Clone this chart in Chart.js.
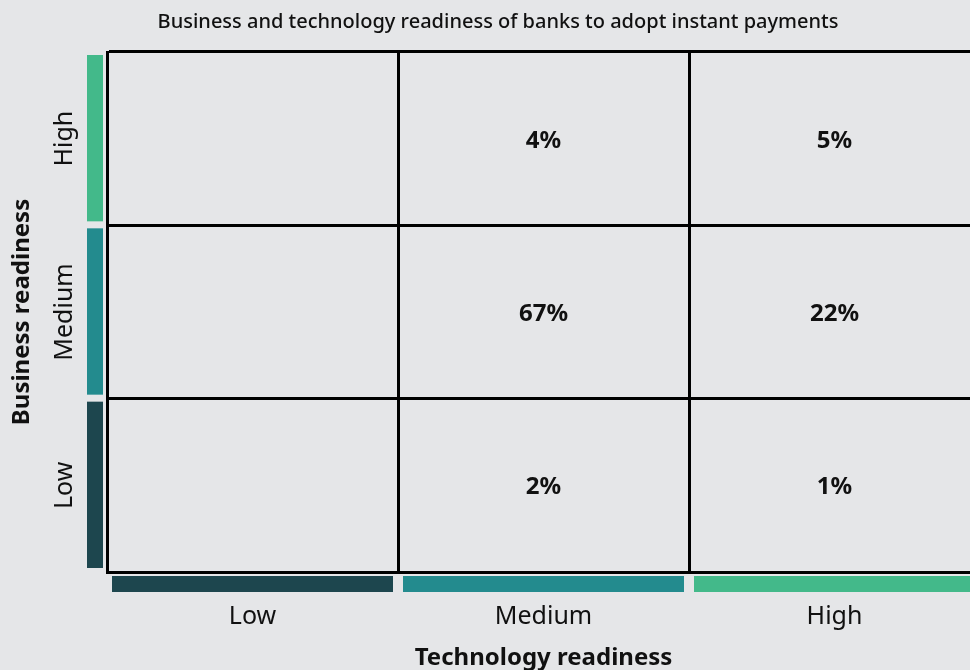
<!DOCTYPE html>
<html>
<head>
<meta charset="utf-8">
<script src="https://cdn.jsdelivr.net/npm/chart.js@4.4.1/dist/chart.umd.min.js"></script>
<style>
    html, body { margin: 0; padding: 0; background: #e5e6e8; overflow: hidden; }
    #wrap { width: 990px; height: 670px; }
</style>
</head>
<body>
<div id="wrap"><canvas id="matrix" width="990" height="670"></canvas></div>
<script>
// ── Data ─────────────────────────────────────────────────────────────────────

const chartTitle     = "Business and technology readiness of banks to adopt instant payments";
const techLevels     = ["Low", "Medium", "High"];   // x axis, left → right
const businessLevels = ["High", "Medium", "Low"];   // y axis, top → bottom

// share of banks (%) per technology level, one array per business level
const highBusiness   = [null, 4, 5];
const mediumBusiness = [null, 67, 22];
const lowBusiness    = [null, 2, 1];

// ── Styling ──────────────────────────────────────────────────────────────────

const FONT = "'Noto Sans', sans-serif";
const levelColors = { Low: "#1d464e", Medium: "#238b8e", High: "#43b98a" };

// one point per filled cell, placed on the category axes
const rows  = [highBusiness, mediumBusiness, lowBusiness];
const cells = [];
rows.forEach((row, i) => {
    row.forEach((v, j) => {
        if (v !== null) cells.push({ x: techLevels[j], y: businessLevels[i], v });
    });
});

// ── Plugin: title, coloured level bars, rotated row labels, cell values ─────

const matrixDecor = {
    id: "matrixDecor",
    afterDraw(chart) {
        const { ctx, chartArea, scales: { x, y } } = chart;
        ctx.save();

        // chart title (centred on the visible page)
        ctx.fillStyle = "#111";
        ctx.font = `500 20px ${FONT}`;
        ctx.textAlign = "center";
        ctx.textBaseline = "middle";
        ctx.fillText(chartTitle, 498, 22);

        // bars under the x axis
        techLevels.forEach((lvl, i) => {
            const l = x.getPixelForValue(i - 0.5);
            const r = x.getPixelForValue(i + 0.5);
            ctx.fillStyle = levelColors[lvl];
            ctx.fillRect(l + 5, chartArea.bottom + 4, r - l - 10, 16);
        });

        // bars + rotated labels left of the y axis
        businessLevels.forEach((lvl, i) => {
            const t = y.getPixelForValue(i - 0.5);
            const b = y.getPixelForValue(i + 0.5);
            const top = Math.min(t, b), bot = Math.max(t, b);
            ctx.fillStyle = levelColors[lvl];
            ctx.fillRect(chartArea.left - 20, top + 3, 16, bot - top - 7);

            ctx.save();
            ctx.translate(65, (top + bot) / 2);
            ctx.rotate(-Math.PI / 2);
            ctx.fillStyle = "#111";
            ctx.font = `25px ${FONT}`;
            ctx.fillText(lvl, 0, 0);
            ctx.restore();
        });

        // percentages in the cells
        const meta = chart.getDatasetMeta(0);
        ctx.fillStyle = "#111";
        ctx.font = `bold 24px ${FONT}`;
        meta.data.forEach((pt, k) => {
            ctx.fillText(cells[k].v + "%", pt.x, pt.y + 2);
        });

        ctx.restore();
    },
};

// ── Chart ────────────────────────────────────────────────────────────────────

new Chart(document.getElementById("matrix"), {
    type: "scatter",
    data: {
        datasets: [{
            data: cells,
            pointRadius: 0,
            pointHoverRadius: 0,
        }],
    },
    options: {
        responsive: false,
        animation: false,
        layout: { padding: { top: 52, right: 10, left: 0, bottom: 0 } },
        plugins: {
            legend:  { display: false },
            tooltip: { enabled: false },
        },
        scales: {
            x: {
                type: "category",
                labels: techLevels,
                offset: true,
                grid:   { offset: true, color: "#000", lineWidth: 3, drawTicks: false },
                border: { color: "#000", width: 3 },
                ticks:  { color: "#111", padding: 30, font: { family: FONT, size: 25 } },
                title: {
                    display: true,
                    text: "Technology readiness",
                    color: "#111",
                    font: { family: FONT, size: 24, weight: "bold", lineHeight: 1 },
                    padding: { top: 0, bottom: 0 },
                },
                afterFit: s => { s.height = 98; },
            },
            y: {
                type: "category",
                labels: businessLevels,
                offset: true,
                grid:   { offset: true, color: "#000", lineWidth: 3, drawTicks: false },
                border: { color: "#000", width: 3 },
                ticks:  { display: false },
                title: {
                    display: true,
                    text: "Business readiness",
                    color: "#111",
                    font: { family: FONT, size: 24, weight: "bold" },
                    padding: { top: 8, bottom: 0 },
                },
                afterFit: s => { s.width = 107; },
            },
        },
    },
    plugins: [matrixDecor],
});
</script>
</body>
</html>
